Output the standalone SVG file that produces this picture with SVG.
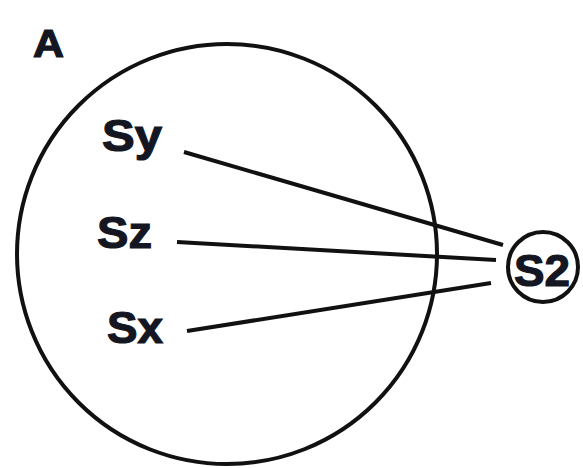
<svg xmlns="http://www.w3.org/2000/svg" width="583" height="468" viewBox="0 0 583 468">
<style>
.lbl{font-family:"Liberation Sans",Arial,sans-serif;font-weight:bold;fill:#141622;stroke:#141622;stroke-width:1.2}
.ring{fill:none;stroke:#111;stroke-width:4}
.edge{stroke:#111;stroke-width:4;fill:none}
</style>
<rect width="583" height="468" fill="#ffffff"/>
<text class="lbl" x="33" y="57" font-size="38" textLength="31" lengthAdjust="spacingAndGlyphs">A</text>
<g id="cellA"><circle class="ring" cx="227" cy="254" r="210"/></g>
<g id="connectors">
<line class="edge" x1="184" y1="152" x2="503" y2="245"/>
<line class="edge" x1="177" y1="242" x2="496" y2="260"/>
<line class="edge" x1="187" y1="331" x2="491" y2="283"/>
</g>
<g id="Sy"><text class="lbl" x="102" y="151" font-size="44" textLength="60" lengthAdjust="spacingAndGlyphs">Sy</text></g>
<g id="Sz"><text class="lbl" x="97" y="248" font-size="45" textLength="55" lengthAdjust="spacingAndGlyphs">Sz</text></g>
<g id="Sx"><text class="lbl" x="107" y="343" font-size="44" textLength="56" lengthAdjust="spacingAndGlyphs">Sx</text></g>
<g id="S2"><circle class="ring" cx="543" cy="267" r="35" stroke-width="3.5"/><text class="lbl" x="514" y="286" font-size="45" textLength="56" lengthAdjust="spacingAndGlyphs">S2</text></g>
</svg>
